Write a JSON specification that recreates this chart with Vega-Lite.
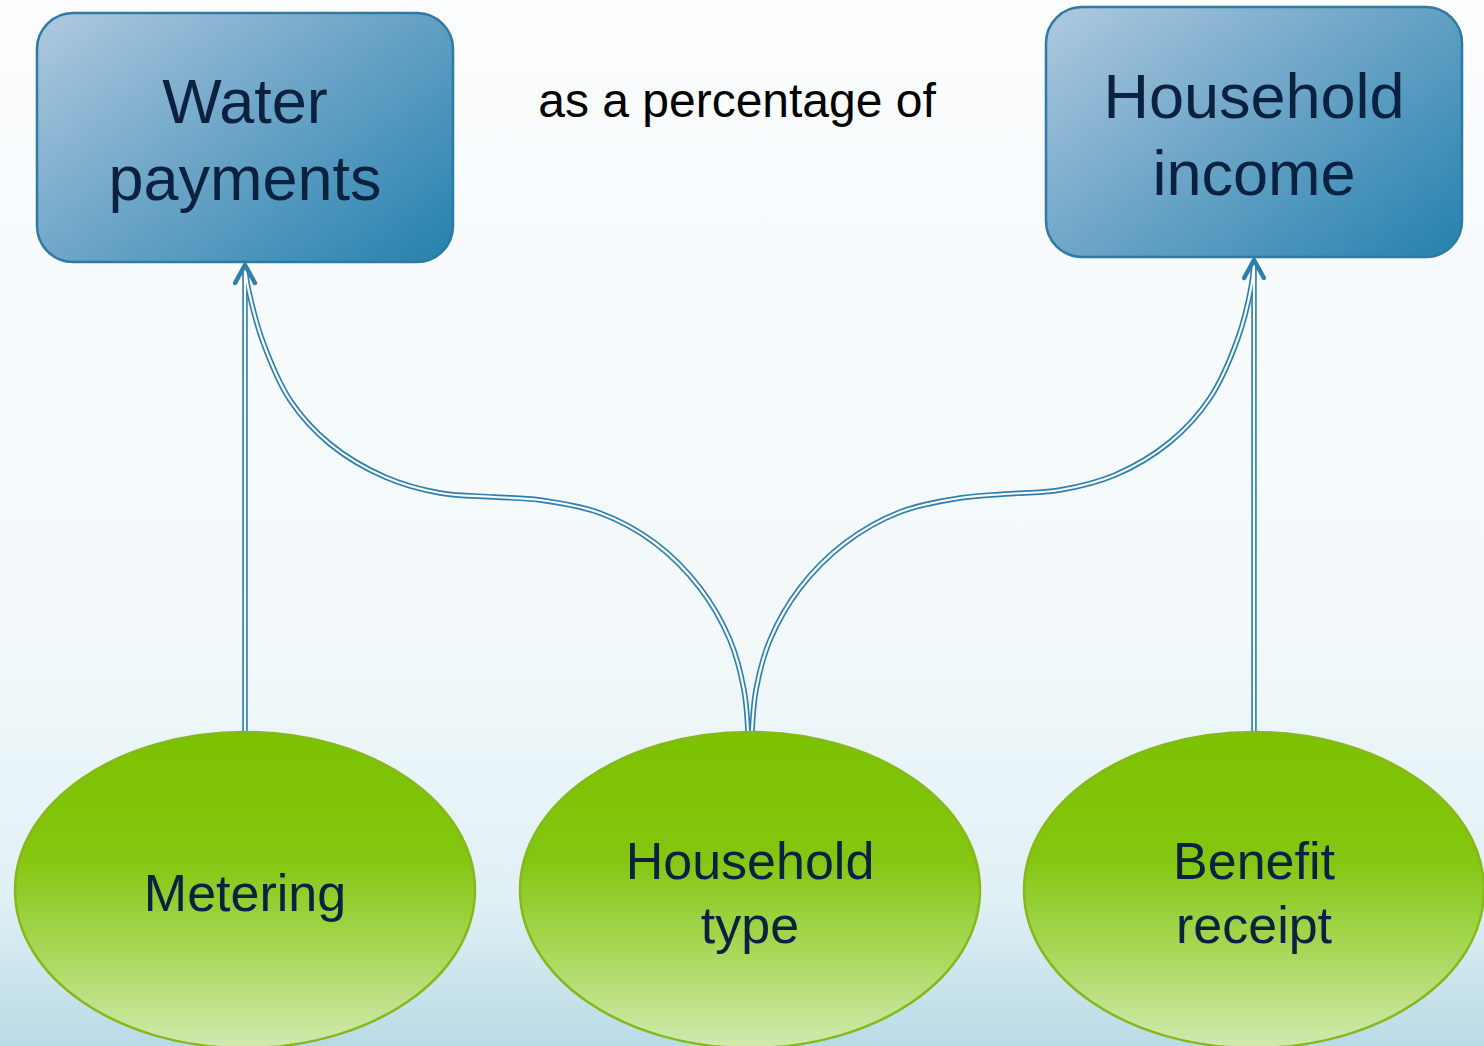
{
  "$schema": "https://vega.github.io/schema/vega-lite/v6.json",
  "width": 1484,
  "height": 1046,
  "autosize": {"type": "fit", "contains": "padding"},
  "padding": 0,
  "config": {"view": {"stroke": null}},
  "datasets": {
    "bg": [{"x": 0, "x2": 1484, "y": 0, "y2": 1046}],
    "boxes": [
      {"name": "Water payments", "x": 37, "x2": 453, "y": 13, "y2": 262},
      {"name": "Household income", "x": 1046, "x2": 1462, "y": 7, "y2": 257}
    ],
    "boxLabels": [
      {"label": "Water\npayments", "x": 245, "y": 123},
      {"label": "Household\nincome", "x": 1254, "y": 118}
    ],
    "midLabel": [{"label": "as a percentage of", "x": 737, "y": 117}],
    "nodes": [
      {"label": "Metering", "x": 245, "y": 890},
      {"label": "Household type", "x": 750, "y": 890},
      {"label": "Benefit receipt", "x": 1254, "y": 890}
    ],
    "nodeLabels": [
      {"label": "Metering", "x": 245, "y": 911},
      {"label": "Household\ntype", "x": 750, "y": 879},
      {"label": "Benefit\nreceipt", "x": 1254, "y": 879}
    ],
    "links": [
      {"link": "Metering-Water", "i": 0, "x": 245, "y": 732},
      {"link": "Metering-Water", "i": 1, "x": 245, "y": 268},
      {"link": "Benefit-Income", "i": 0, "x": 1254, "y": 732},
      {"link": "Benefit-Income", "i": 1, "x": 1254, "y": 262},
      {"link": "Type-Water", "i": 0, "x": 748, "y": 732},
      {"link": "Type-Water", "i": 1, "x": 744, "y": 690},
      {"link": "Type-Water", "i": 2, "x": 730, "y": 640},
      {"link": "Type-Water", "i": 3, "x": 700, "y": 588},
      {"link": "Type-Water", "i": 4, "x": 655, "y": 543},
      {"link": "Type-Water", "i": 5, "x": 600, "y": 513},
      {"link": "Type-Water", "i": 6, "x": 540, "y": 500},
      {"link": "Type-Water", "i": 7, "x": 495, "y": 497},
      {"link": "Type-Water", "i": 8, "x": 440, "y": 493},
      {"link": "Type-Water", "i": 9, "x": 385, "y": 477},
      {"link": "Type-Water", "i": 10, "x": 330, "y": 444},
      {"link": "Type-Water", "i": 11, "x": 290, "y": 400},
      {"link": "Type-Water", "i": 12, "x": 263, "y": 342},
      {"link": "Type-Water", "i": 13, "x": 249, "y": 292},
      {"link": "Type-Water", "i": 14, "x": 245, "y": 268},
      {"link": "Type-Income", "i": 0, "x": 752, "y": 732},
      {"link": "Type-Income", "i": 1, "x": 756, "y": 690},
      {"link": "Type-Income", "i": 2, "x": 770, "y": 640},
      {"link": "Type-Income", "i": 3, "x": 800, "y": 588},
      {"link": "Type-Income", "i": 4, "x": 845, "y": 543},
      {"link": "Type-Income", "i": 5, "x": 900, "y": 512},
      {"link": "Type-Income", "i": 6, "x": 960, "y": 498},
      {"link": "Type-Income", "i": 7, "x": 1005, "y": 494},
      {"link": "Type-Income", "i": 8, "x": 1060, "y": 490},
      {"link": "Type-Income", "i": 9, "x": 1115, "y": 475},
      {"link": "Type-Income", "i": 10, "x": 1170, "y": 442},
      {"link": "Type-Income", "i": 11, "x": 1210, "y": 398},
      {"link": "Type-Income", "i": 12, "x": 1238, "y": 338},
      {"link": "Type-Income", "i": 13, "x": 1251, "y": 288},
      {"link": "Type-Income", "i": 14, "x": 1254, "y": 262}
    ],
    "arrows": [
      {"to": "Water payments", "x": 245, "y": 265},
      {"to": "Household income", "x": 1254, "y": 260}
    ]
  },
  "encoding": {
    "x": {"field": "x", "type": "quantitative", "scale": {"domain": [0, 1484], "nice": false, "zero": false}, "axis": null},
    "y": {"field": "y", "type": "quantitative", "scale": {"domain": [0, 1046], "nice": false, "zero": false, "reverse": true}, "axis": null}
  },
  "layer": [
    {
      "data": {"name": "bg"},
      "mark": {
        "type": "rect",
        "color": {
          "gradient": "linear", "x1": 0, "y1": 0, "x2": 0, "y2": 1,
          "stops": [
            {"offset": 0, "color": "#fbfdfe"},
            {"offset": 0.6, "color": "#f3f9fb"},
            {"offset": 0.86, "color": "#e0f0f5"},
            {"offset": 1, "color": "#b9dbe6"}
          ]
        }
      },
      "encoding": {"x2": {"field": "x2"}, "y2": {"field": "y2"}}
    },
    {
      "data": {"name": "boxes"},
      "mark": {"type": "rect", "cornerRadius": 36, "color": "#000000", "opacity": 0.12, "xOffset": 2, "yOffset": 7},
      "encoding": {"x2": {"field": "x2"}, "y2": {"field": "y2"}}
    },
    {
      "data": {"name": "boxes"},
      "mark": {"type": "rect", "cornerRadius": 36, "color": "#000000", "opacity": 0.1, "xOffset": 1, "yOffset": 4},
      "encoding": {"x2": {"field": "x2"}, "y2": {"field": "y2"}}
    },
    {
      "data": {"name": "boxes"},
      "mark": {
        "type": "rect",
        "cornerRadius": 36,
        "fill": {
          "gradient": "linear", "x1": 0, "y1": 0.1, "x2": 1, "y2": 0.9,
          "stops": [
            {"offset": 0, "color": "#a9c6dd"},
            {"offset": 0.45, "color": "#6fa6c8"},
            {"offset": 1, "color": "#2a84b0"}
          ]
        },
        "stroke": "#2f7aa2",
        "strokeWidth": 2.5
      },
      "encoding": {"x2": {"field": "x2"}, "y2": {"field": "y2"}}
    },
    {
      "data": {"name": "links"},
      "mark": {"type": "line", "color": "#2f7fa8", "strokeWidth": 5.5, "interpolate": "catmull-rom"},
      "encoding": {"detail": {"field": "link"}, "order": {"field": "i", "type": "quantitative"}}
    },
    {
      "data": {"name": "links"},
      "mark": {"type": "line", "color": "#f7fbfd", "strokeWidth": 2.2, "interpolate": "catmull-rom"},
      "encoding": {"detail": {"field": "link"}, "order": {"field": "i", "type": "quantitative"}}
    },
    {
      "data": {"name": "arrows"},
      "mark": {
        "type": "point",
        "shape": "M -0.55 1 L 0 0 L 0.55 1",
        "size": 1296,
        "filled": false,
        "opacity": 1,
        "stroke": "#2f7fa8",
        "strokeWidth": 4.5,
        "strokeCap": "round",
        "strokeJoin": "round"
      }
    },
    {
      "data": {"name": "nodes"},
      "mark": {
        "type": "point",
        "clip": true,
        "shape": "M -1 0 C -1 -0.3794 -0.5523 -0.687 0 -0.687 C 0.5523 -0.687 1 -0.3794 1 0 C 1 0.3794 0.5523 0.687 0 0.687 C -0.5523 0.687 -1 0.3794 -1 0 Z",
        "size": 211600,
        "filled": true,
        "opacity": 1,
        "fill": {
          "gradient": "linear", "x1": 0, "y1": 0, "x2": 0, "y2": 1,
          "stops": [
            {"offset": 0, "color": "#7cc200"},
            {"offset": 0.4, "color": "#84c610"},
            {"offset": 0.7, "color": "#a8d85a"},
            {"offset": 1, "color": "#d2eab0"}
          ]
        },
        "stroke": "#86b81c",
        "strokeWidth": 2.5
      }
    },
    {
      "data": {"name": "boxLabels"},
      "mark": {"type": "text", "font": "Liberation Sans", "fontSize": 63, "lineHeight": 77, "lineBreak": "\n", "align": "center", "baseline": "alphabetic", "color": "#0b2140"},
      "encoding": {"text": {"field": "label"}}
    },
    {
      "data": {"name": "midLabel"},
      "mark": {"type": "text", "font": "Liberation Sans", "fontSize": 48, "align": "center", "baseline": "alphabetic", "color": "#000000"},
      "encoding": {"text": {"field": "label"}}
    },
    {
      "data": {"name": "nodeLabels"},
      "mark": {"type": "text", "font": "Liberation Sans", "fontSize": 52, "lineHeight": 64, "lineBreak": "\n", "align": "center", "baseline": "alphabetic", "color": "#0b2140"},
      "encoding": {"text": {"field": "label"}}
    }
  ]
}
